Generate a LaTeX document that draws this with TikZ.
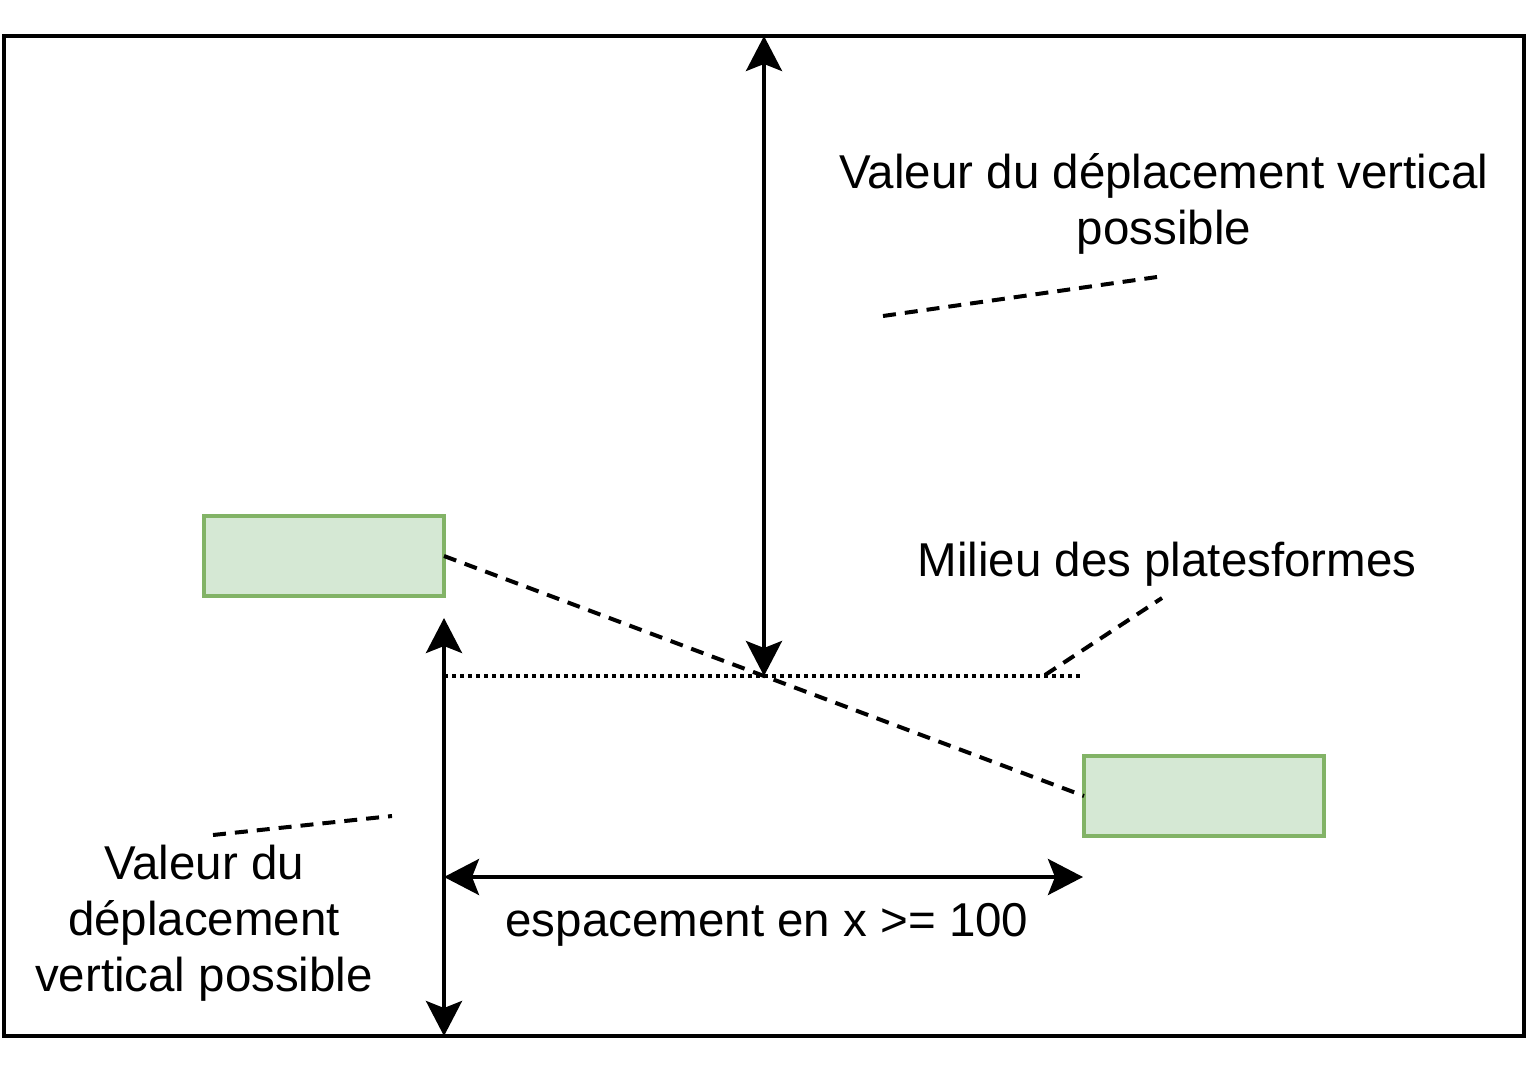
\documentclass[tikz,border=0pt]{standalone}
\usepackage{fontspec}
\setmainfont{Liberation Sans}
\usetikzlibrary{arrows.meta}
\tikzset{
  frame/.style={draw=black, line width=2pt},
  plat/.style={draw=plateedge, fill=platefill, line width=2pt, minimum width=120pt, minimum height=40pt, inner sep=0pt, outer sep=0pt},
  arr/.style={draw=black, line width=2pt, {Stealth[length=17.5pt,width=18pt,inset=3.5pt]}-{Stealth[length=17.5pt,width=18pt,inset=3.5pt]}},
  dashln/.style={draw=black, line width=2pt, dash pattern=on 6.5pt off 4.5pt},
  dotln/.style={draw=black, line width=2pt, dash pattern=on 2pt off 2pt},
  lbl/.style={align=center, inner sep=0pt, font=\fontsize{23.75pt}{28pt}\selectfont}
}
\definecolor{platefill}{HTML}{D5E8D4}
\definecolor{plateedge}{HTML}{82B366}
\begin{document}
\begin{tikzpicture}[x=0.5pt, y=-0.5pt]
\useasboundingbox (0,0) rectangle (1527,1075);
\draw[frame] (4,36) rectangle (1524,1036);
% platforms
\node[plat] (p1) at (324,556) {};
\node[plat] (p2) at (1204,796) {};
% coordinates
\coordinate (vtop) at (764,36);
\coordinate (vmid) at (764,676);
\coordinate (dotL) at (444,676);
\coordinate (dotR) at (1080,676);
\coordinate (lbot) at (444,1036);
\coordinate (ltop) at (444,618);
\coordinate (hL) at (444,877);
\coordinate (hR) at (1083,877);
\coordinate (c1a) at (883,316);
\coordinate (c1b) at (1157,277);
\coordinate (c2a) at (1045,675);
\coordinate (c2b) at (1162,598);
\coordinate (c3a) at (213,835);
\coordinate (c3b) at (392,816);
% lines
\draw[dotln] (dotL) -- (dotR);
\draw[dashln] (p1.east) -- (p2.west);
\draw[arr] (vtop) -- (vmid);
\draw[arr] (lbot) -- (ltop);
\draw[arr] (hL) -- (hR);
\draw[dashln] (c1a) -- (c1b);
\draw[dashln] (c2a) -- (c2b);
\draw[dashln] (c3a) -- (c3b);
% labels
\node[lbl] (t1) at (1164,204) {Valeur du déplacement vertical\\possible};
\node[lbl] (t2) at (1167,564) {Milieu des platesformes};
\node[lbl] (t3) at (204,923) {Valeur du\\déplacement\\vertical possible};
\node[lbl] (t4) at (767,925) {espacement en x >= 100};
\end{tikzpicture}
\end{document}
